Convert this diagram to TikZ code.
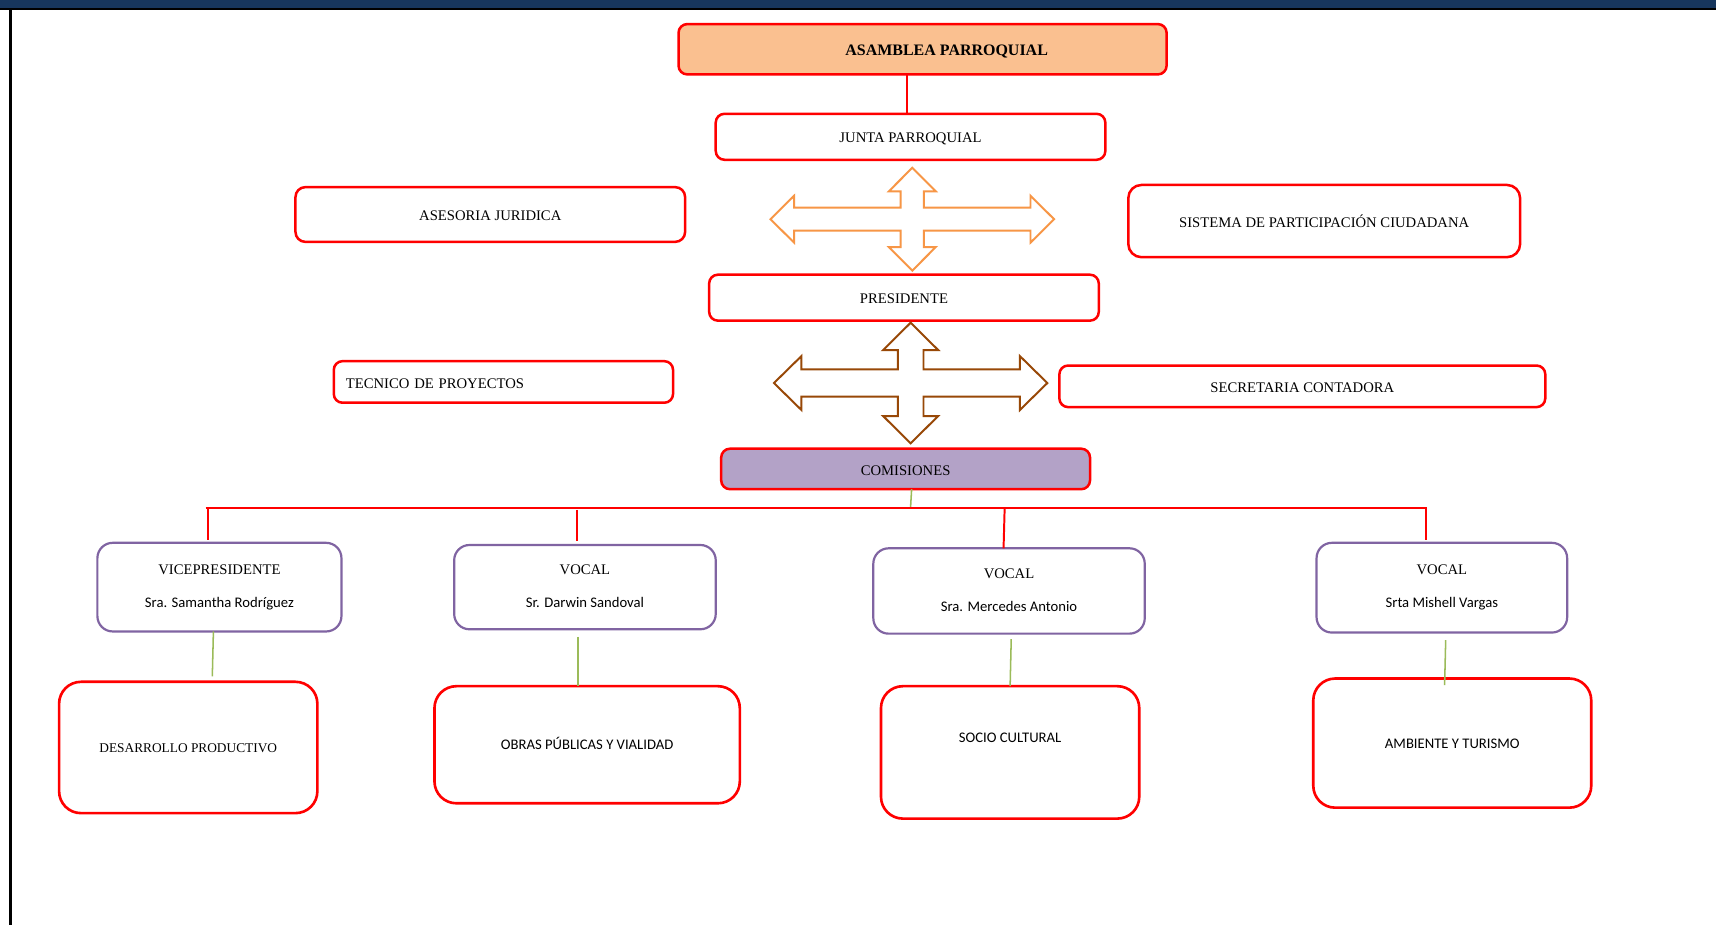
\documentclass[tikz,border=0pt]{standalone}
\usepackage{fontspec}
\setmainfont{Liberation Serif}
\setsansfont{Carlito}
\definecolor{navy}{HTML}{17365D}
\definecolor{peach}{HTML}{FAC090}
\definecolor{lav}{HTML}{B3A2C7}
\definecolor{purp}{HTML}{8064A2}
\definecolor{orng}{HTML}{F79646}
\definecolor{brwn}{HTML}{984807}
\definecolor{grn}{HTML}{9BBB59}
\definecolor{rd}{HTML}{FF0000}
\newcommand\boxat[6]{\node[#6, minimum width={(#4-#2)*0.5pt}, minimum height={(#5-#3)*0.5pt}] (#1) at ({(#2+#4)/2},{(#3+#5)/2})}
\begin{document}
\begin{tikzpicture}[x=0.5pt,y=-0.5pt,
  base/.style={inner sep=0pt, outer sep=0pt, align=center, font=\fontsize{6.7}{8}\selectfont},
  rbox/.style={base, draw=rd, line width=1.15pt, rounded corners=4pt, text height=5.6pt, text depth=0pt},
  pbox/.style={base, draw=purp, line width=1pt, rounded corners=7pt, text height=18.4pt, text depth=0pt},
  bigbox/.style={base, draw=rd, line width=1.2pt, rounded corners=10pt, text height=5.2pt, text depth=0pt},
  redline/.style={draw=rd, line width=0.9pt},
  grnline/.style={draw=grn, line width=0.7pt},
  xarrow/.style={line width=0.9pt, line join=miter, fill=white}]
\useasboundingbox (0,0) rectangle (1568,845);
\fill[white] (0,0) rectangle (1568,845);
% frame
\fill[navy] (0,0) rectangle (1568,7.2);
\fill[black] (0,7.2) rectangle (1568,9.2);
\fill[black] (8.6,7.2) rectangle (10.6,845);

% boxes
\boxat{asam}{620}{22}{1066}{68}{rbox, fill=peach, text height=5.8pt} {\fontsize{7.3}{9}\selectfont\bfseries\hspace*{22pt}ASAMBLEA PARROQUIAL};
\boxat{jp}{654}{104}{1010}{146}{rbox} {JUNTA PARROQUIAL};
\boxat{ases}{270}{171}{626}{221}{rbox, rounded corners=4.5pt} {ASESORIA JURIDICA};
\boxat{sis}{1031}{169}{1389}{235}{rbox, rounded corners=6pt} {SISTEMA DE PARTICIPACIÓN CIUDADANA};
\boxat{pres}{648}{251}{1004}{293}{rbox} {PRESIDENTE};
\boxat{tec}{305}{330}{615}{368}{rbox, align=left, inner xsep=5.5pt, text width=144pt} {TECNICO DE PROYECTOS};
\boxat{sec}{968}{334}{1412}{372}{rbox} {SECRETARIA CONTADORA};
\boxat{com}{659}{410}{996}{447}{rbox, fill=lav} {COMISIONES};

\boxat{v1}{89}{496}{312}{577}{pbox} {VICEPRESIDENTE\\[7pt]{\sffamily Sra. Samantha Rodríguez}};
\boxat{v2}{415}{498}{654}{575}{pbox} {VOCAL\\[7pt]{\sffamily Sr. Darwin Sandoval}};
\boxat{v3}{798}{501}{1046}{579}{pbox} {VOCAL\\[7pt]{\sffamily Sra. Mercedes Antonio}};
\boxat{v4}{1203}{496}{1432}{578}{pbox} {VOCAL\\[7pt]{\sffamily Srta Mishell Vargas}};

\boxat{c1}{54}{623}{290}{743}{bigbox, text height=5pt} {\fontsize{6.1}{8}\selectfont DESARROLLO PRODUCTIVO};
\boxat{c2}{397}{627}{676}{734}{bigbox, text height=4.8pt} {\sffamily OBRAS PÚBLICAS Y VIALIDAD};
\boxat{c3}{805}{627}{1041}{748}{bigbox, text height=5.2pt, text depth=14.4pt} {\sffamily SOCIO CULTURAL};
\boxat{c4}{1200}{620}{1454}{738}{bigbox, text height=5.3pt} {\sffamily AMBIENTE Y TURISMO};

% cross arrows
\begin{scope}[shift={(833.6,200.3)}]
\draw[xarrow, draw=orng] (0,-47) -- (21.4,-25.5) -- (10.6,-25.5) -- (10.6,-10.5) -- (108,-10.5) -- (108,-21.4) -- (129.6,0) -- (108,21.4) -- (108,10.5) -- (10.6,10.5) -- (10.6,25.5) -- (21.4,25.5) -- (0,47) -- (-21.4,25.5) -- (-10.6,25.5) -- (-10.6,10.5) -- (-108,10.5) -- (-108,21.4) -- (-129.6,0) -- (-108,-21.4) -- (-108,-10.5) -- (-10.6,-10.5) -- (-10.6,-25.5) -- (-21.4,-25.5) -- cycle;
\end{scope}
\begin{scope}[shift={(832.1,350)}]
\draw[xarrow, draw=brwn] (0,-55.1) -- (25.15,-30.15) -- (11.75,-30.15) -- (11.75,-12.5) -- (99.8,-12.5) -- (99.8,-24.65) -- (124.9,0) -- (99.8,24.65) -- (99.8,12.5) -- (11.75,12.5) -- (11.75,30.15) -- (25.15,30.15) -- (0,55.1) -- (-25.15,30.15) -- (-11.75,30.15) -- (-11.75,12.5) -- (-99.8,12.5) -- (-99.8,24.65) -- (-124.9,0) -- (-99.8,-24.65) -- (-99.8,-12.5) -- (-11.75,-12.5) -- (-11.75,-30.15) -- (-25.15,-30.15) -- cycle;
\end{scope}

% connectors
\coordinate (t1) at (829,0);
\draw[redline] (t1 |- asam.south) -- (t1 |- jp.north);

\coordinate (busL) at (188,464);
\coordinate (busR) at (1304,464);
\coordinate (busC) at (832,464);
\draw[grnline] (833,0 |- com.south) -- (busC);
\draw[redline] (busL) -- (busR);

\coordinate (d1) at (190,465.5);
\coordinate (d2) at (527,466);
\coordinate (d3) at (918,464);
\coordinate (d4) at (1303,465.5);
\draw[redline] (d1) -- ([yshift=1.5pt]d1 |- v1.north);
\draw[redline] (d2) -- ([yshift=2pt]d2 |- v2.north);
\draw[redline] (d3) -- (917,0 |- v3.north);
\draw[redline] (d4) -- ([yshift=1.5pt]d4 |- v4.north);

\coordinate (e1) at (195,0);
\coordinate (e2) at (528,0);
\coordinate (e3) at (924,0);
\coordinate (e4) at (1321,0);
\draw[grnline] (e1 |- v1.south) -- ([xshift=-0.5pt,yshift=2.5pt]e1 |- c1.north);
\draw[grnline] ([yshift=-3.5pt]e2 |- v2.south) -- (e2 |- c2.north);
\draw[grnline] ([yshift=-2.5pt]e3 |- v3.south) -- ([xshift=-0.5pt]e3 |- c3.north);
\draw[grnline] ([yshift=-3.5pt]e4 |- v4.south) -- ([xshift=-0.5pt,yshift=-3pt]e4 |- c4.north);
\end{tikzpicture}
\end{document}
